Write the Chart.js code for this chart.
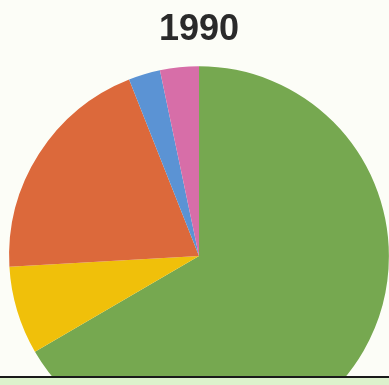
<!DOCTYPE html>
<html>
  <head>
    <title>1990</title>
    <meta charset="UTF-8" />
    <script src="https://cdn.jsdelivr.net/npm/chart.js@4"></script>
    <style>
      body { margin: 0; background: #fcfdf7; }
      #box { position: relative; width: 389px; height: 376px; overflow: hidden; background: #fcfdf7; }
      #box canvas { position: absolute; left: 0; top: 0; }
      #line { width: 389px; height: 2px; background: #1a1a1a; }
      #strip { width: 389px; height: 7px; background: #dcf2cc; }
    </style>
  </head>
  <body>
    <div id="box"><canvas id="myChart" width="398" height="446"></canvas></div>
    <div id="line"></div>
    <div id="strip"></div>
    <script>
      var title = "1990";
      var labels = ["Green", "Yellow", "Orange", "Blue", "Pink"];
      var shares = [66.6, 7.5, 19.9, 2.7, 3.3];
      var colors = ["#76a850", "#f0c00a", "#dc693b", "#5b93d4", "#d76ea8"];

      var ctx = document.getElementById("myChart").getContext("2d");
      var chart = new Chart(ctx, {
        type: "pie",
        data: {
          labels: labels,
          datasets: [
            {
              data: shares,
              backgroundColor: colors,
              borderWidth: 0
            }
          ]
        },
        options: {
          responsive: false,
          animation: false,
          layout: { padding: { left: 9, right: 9, top: 0, bottom: 0 } },
          plugins: {
            legend: { display: false },
            tooltip: { enabled: false },
            title: {
              display: true,
              text: title,
              color: "#2a2a2a",
              font: { family: "Liberation Sans", size: 36, weight: "bold", lineHeight: 1.2 },
              padding: { top: 8, bottom: 15 }
            }
          }
        }
      });
    </script>
  </body>
</html>
